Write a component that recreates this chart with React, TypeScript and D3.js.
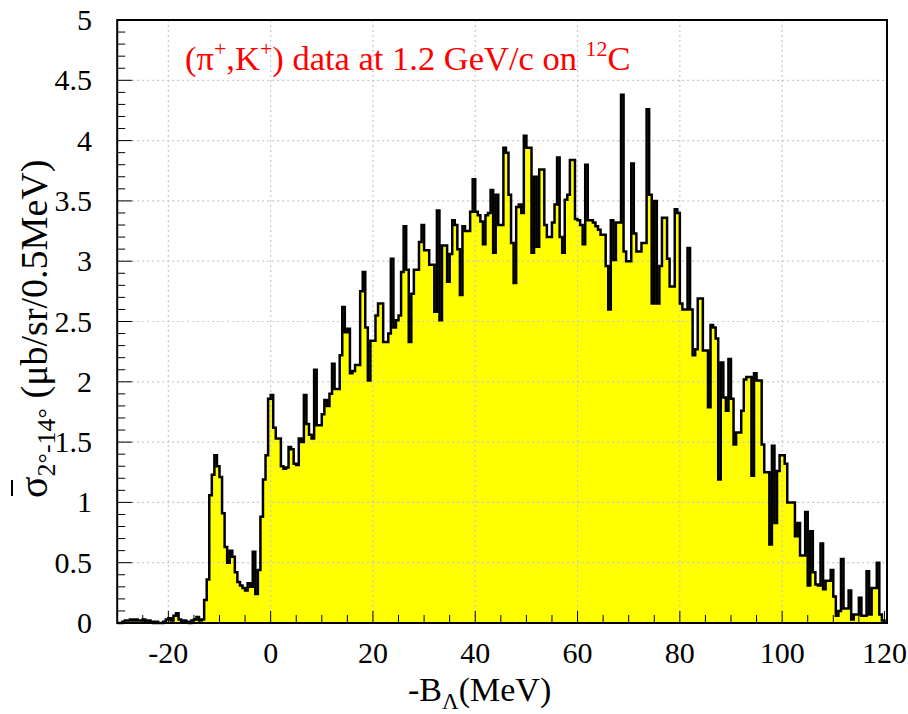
import React from 'react';
import * as d3 from 'd3';

const binStart = -30;
const binWidth = 0.5;

// bins from -30 to -0.5 MeV
const sigmaNeg = [
  0, 0, 0.01, 0.02, 0.02, 0.03, 0.02, 0.03, 0.02, 0.02,
  0.03, 0.01, 0.02, 0.01, 0, 0.01, 0, 0, 0.01, 0.03,
  0.04, 0.02, 0.06, 0.08, 0.03, 0.01, 0.02, 0.01, 0, 0.02,
  0.03, 0.05, 0.02, 0.03, 0.19, 0.36, 1.06, 1.23, 1.39, 1.3,
  1.21, 0.91, 0.63, 0.5, 0.6, 0.55, 0.42, 0.34, 0.31, 0.29,
  0.27, 0.33, 0.3, 0.59, 0.24, 0.44, 0.88, 1.19, 1.39, 1.86,
];
// bins from 0 to 29.5 MeV
const sigmaLow = [
  1.89, 1.62, 1.53, 1.53, 1.3, 1.28, 1.29, 1.46, 1.44, 1.32,
  1.31, 1.53, 1.5, 1.89, 1.65, 1.56, 1.53, 2.1, 1.64, 1.64,
  1.73, 1.85, 1.8, 1.9, 2.15, 1.94, 1.94, 2.22, 2.62, 2.41,
  2.44, 2.07, 2.09, 2.14, 2.14, 2.75, 2.91, 2.45, 2.01, 2.34,
  2.34, 2.55, 2.65, 2.65, 2.33, 2.33, 2.4, 3.02, 2.45, 2.51,
  2.55, 2.91, 3.29, 2.93, 2.33, 2.73, 2.93, 2.93, 3.16, 3.3,
];
// bins from 30 to 59.5 MeV
const sigmaMid = [
  3.09, 3.09, 2.97, 2.97, 2.58, 3.42, 2.51, 3.13, 3.13, 2.83,
  3.06, 3.34, 3.3, 3.1, 2.72, 3.29, 3.25, 3.25, 3.41, 3.68,
  3.41, 3.38, 3.33, 3.14, 3.38, 3.4, 3.59, 3.07, 3.55, 3.3,
  3.3, 3.94, 3.9, 3.55, 3.15, 2.82, 3.45, 3.47, 3.4, 4.04,
  3.94, 3.94, 3.07, 3.7, 3.12, 3.76, 3.76, 3.3, 3.2, 3.2,
  3.32, 3.47, 3.86, 3.2, 3.07, 3.51, 3.55, 3.84, 3.84, 3.35,
];
// bins from 60 to 89.5 MeV
const sigmaHigh = [
  3.34, 3.3, 3.14, 3.8, 3.34, 3.34, 3.32, 3.29, 3.26, 3.22,
  3.22, 2.96, 2.6, 3.34, 3.01, 3.32, 3.32, 4.38, 3.08, 3.0,
  3.0, 3.81, 3.23, 3.08, 3.08, 3.15, 3.15, 4.26, 3.55, 2.65,
  3.5, 2.65, 2.96, 3.36, 3.36, 3.02, 2.79, 2.79, 3.43, 3.4,
  2.65, 2.6, 2.6, 3.11, 2.6, 2.22, 2.27, 2.69, 2.69, 2.26,
  2.26, 1.79, 2.47, 2.45, 2.36, 1.19, 2.16, 1.87, 1.76, 2.19,
];
// bins from 90 to 119.5 MeV
const sigmaTail = [
  1.86, 1.48, 1.58, 1.58, 1.76, 2.02, 2.04, 2.04, 1.22, 2.07,
  2.01, 2.01, 1.48, 1.25, 1.25, 0.65, 1.47, 0.83, 1.26, 1.39,
  1.39, 1.32, 1.0, 1.0, 1.0, 0.72, 0.83, 0.56, 0.56, 0.92,
  0.31, 0.76, 0.42, 0.32, 0.31, 0.66, 0.28, 0.35, 0.35, 0.44,
  0.22, 0.06, 0.1, 0.53, 0.12, 0.12, 0.27, 0.03, 0.07, 0.07,
  0.21, 0.06, 0.06, 0.43, 0.07, 0.29, 0.29, 0.5, 0.07, 0.02,
];

const xTickValues = [-20, 0, 20, 40, 60, 80, 100, 120];
const xTickLabels = ['-20', '0', '20', '40', '60', '80', '100', '120'];
const yTickValues = [0, 0.5, 1, 1.5, 2, 2.5, 3, 3.5, 4, 4.5, 5];
const yTickLabels = ['0', '0.5', '1', '1.5', '2', '2.5', '3', '3.5', '4', '4.5', '5'];

const FONT = "'Liberation Serif', 'Times New Roman', serif";

export default function App() {
  const W = 908;
  const H = 714;
  const x = d3.scaleLinear().domain([-30, 120.5]).range([117.2, 887]);
  const y = d3.scaleLinear().domain([0, 5]).range([623, 20]);

  const values = [...sigmaNeg, ...sigmaLow, ...sigmaMid, ...sigmaHigh, ...sigmaTail];
  const pts: [number, number][] = [[x(binStart), y(0)]];
  values.forEach((v, i) => {
    const e0 = binStart + i * binWidth;
    const e1 = e0 + binWidth;
    pts.push([x(e0), y(v)]);
    pts.push([x(e1), y(v)]);
  });
  const lastEdge = binStart + values.length * binWidth;
  pts.push([x(lastEdge), y(0)]);
  const line = d3.line();
  const outline = line(pts) || '';
  const area = outline + 'Z';

  const [x0, x1] = x.range();
  const [yb, yt] = y.range();

  const yMinor = d3.range(0, 5.0001, 0.1);
  const xMinor = d3.range(-25, 120.0001, 5);

  return (
    <svg width={W} height={H} style={{ position: 'absolute', left: 0, top: 0, background: '#fff' }}>
      <rect x={0} y={0} width={W} height={H} fill="#fff" />
      <path d={area} fill="#ffff00" stroke="none" />
      {/* grid */}
      {xTickValues.filter(v => v < 120).map(v => (
        <line key={'gx' + v} x1={x(v)} x2={x(v)} y1={yt} y2={yb} stroke="#c8c8c8" strokeWidth={1.2} strokeDasharray="2 3" />
      ))}
      {yTickValues.filter(v => v > 0 && v < 5).map(v => (
        <line key={'gy' + v} x1={x0} x2={x1} y1={y(v)} y2={y(v)} stroke="#c8c8c8" strokeWidth={1.2} strokeDasharray="2 3" />
      ))}
      <path d={outline} fill="none" stroke="#000" strokeWidth={2.5} strokeLinejoin="miter" />
      {/* frame */}
      <rect x={x0} y={yt} width={x1 - x0} height={yb - yt} fill="none" stroke="#000" strokeWidth={2} />
      {/* y ticks */}
      {yMinor.map((v, i) => {
        const major = i % 5 === 0;
        return <line key={'yt' + i} x1={x0} x2={x0 + (major ? 15 : 8)} y1={y(v)} y2={y(v)} stroke="#000" strokeWidth={1} />;
      })}
      {/* x ticks */}
      {xMinor.map((v, i) => {
        const major = v % 20 === 0;
        return <line key={'xt' + i} x1={x(v)} x2={x(v)} y1={yb} y2={yb - (major ? 12 : 8)} stroke="#000" strokeWidth={1} />;
      })}
      {/* y tick labels */}
      {yTickValues.map((v, i) => (
        <text key={'yl' + i} x={92} y={y(v) + 10} textAnchor="end" fontFamily={FONT} fontSize={30} fill="#000">
          {yTickLabels[i]}
        </text>
      ))}
      {/* x tick labels */}
      {xTickValues.map((v, i) => (
        <text key={'xl' + i} x={x(v)} y={663} textAnchor="middle" fontFamily={FONT} fontSize={30} fill="#000">
          {xTickLabels[i]}
        </text>
      ))}
      {/* x title */}
      <text x={408} y={701} fontFamily={FONT} fontSize={34} fill="#000">
        -B<tspan fontSize={23} dy={8}>Λ</tspan><tspan dy={-8}>(MeV)</tspan>
      </text>
      {/* y title */}
      <g transform="translate(47,0) rotate(-90)">
        <text x={-498} y={0} fontFamily={FONT} fontSize={40} fill="#000">
          σ<tspan fontSize={26} dy={8}>2°-14°</tspan><tspan fontSize={38} dy={-8}> (μb/sr/0.5MeV)</tspan>
        </text>
        <line x1={-496} x2={-480} y1={-35} y2={-35} stroke="#000" strokeWidth={2} />
      </g>
      {/* annotation */}
      <text x={185} y={70} fontFamily={FONT} fontSize={34.5} fill="#ff0000">
        (π<tspan fontSize={22} dy={-14}>+</tspan><tspan dy={14}>,K</tspan><tspan fontSize={22} dy={-14}>+</tspan><tspan dy={14}>) data at 1.2 GeV/c on </tspan><tspan fontSize={22} dy={-14}>12</tspan><tspan dy={14}>C</tspan>
      </text>
    </svg>
  );
}
